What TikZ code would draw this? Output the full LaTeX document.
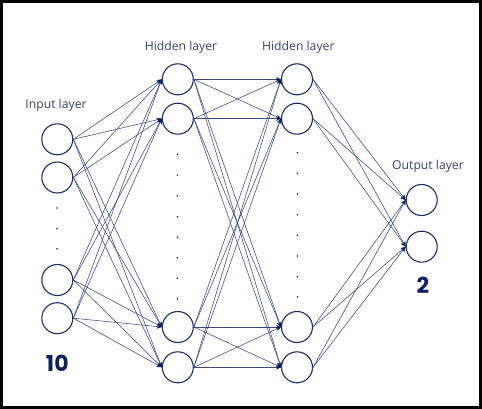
\documentclass[tikz,border=0pt]{standalone}
\usepackage{fontspec}
\setmainfont{Open Sans}
\newfontfamily\numfont{Poppins}
\usetikzlibrary{arrows.meta}
\definecolor{navy}{HTML}{1F2D66}
\definecolor{edgec}{HTML}{3A4781}
\definecolor{lbl}{HTML}{37436E}
\definecolor{numc}{HTML}{10205E}
\begin{document}
\begin{tikzpicture}[x=1pt,y=-1pt,
 neuron/.style={circle,draw=navy,line width=1.1pt,minimum size=31pt,inner sep=0pt},
 conn/.style={draw=edgec,line width=0.55pt,-{Stealth[length=5pt,width=4.5pt,color=numc]}},
 lab/.style={text=lbl,font=\fontsize{12.2}{14}\selectfont,inner sep=0pt},
 cnt/.style={text=numc,font=\numfont\bfseries\fontsize{22}{24}\selectfont,inner sep=0pt},
 dotc/.style={fill=numc}]
\useasboundingbox (0,0) rectangle (482,409);
\fill[white] (0,0) rectangle (482,409);
\draw[line width=2.6pt,black] (1.3,1.3) rectangle (480.7,407.7);
% neurons
\foreach \i/\y in {1/139.3,2/177.5,3/280,4/318.2}
  \node[neuron] (in\i) at (57.3,\y) {};
\foreach \i/\y in {1/79.3,2/118.7,3/327,4/367.3}
  \node[neuron] (ha\i) at (177.8,\y) {};
\foreach \i/\y in {1/79.3,2/118.7,3/327,4/367.3}
  \node[neuron] (hb\i) at (297,\y) {};
\node[neuron] (o1) at (421.7,200) {};
\node[neuron] (o2) at (421.7,246.7) {};
% connections
\foreach \s in {1,...,4}
  \foreach \t in {1,...,4}
    \draw[conn] (in\s.east) -- (ha\t.west);
\foreach \s in {1,...,4}
  \foreach \t in {1,...,4}
    \draw[conn] (ha\s.east) -- (hb\t.west);
\foreach \s in {1,...,4}
  \foreach \t in {1,2}
    \draw[conn] (hb\s.east) -- (o\t.west);
% dots
\foreach \y in {208,228.7,248.7}
  \fill[dotc] (57,\y) circle (0.9pt);
\foreach \y in {154.3,175,195.7,216.7,237.3,257.7,278.3,299}
  \fill[dotc] (177.5,\y) circle (0.9pt);
\foreach \y in {152.7,173.3,194,214.7,235.3,256,276.7,297}
  \fill[dotc] (297.5,\y) circle (0.9pt);
% labels
\node[lab] (linput) at (56,105.5) {Input layer};
\node[lab] (lh1) at (181,47.5) {Hidden layer};
\node[lab] (lh2) at (298.3,47.7) {Hidden layer};
\node[lab] (lout) at (428,166.5) {Output layer};
\node[cnt] (nten) at (57.3,363) {10};
\node[cnt] (ntwo) at (423,285.5) {2};
\end{tikzpicture}
\end{document}
